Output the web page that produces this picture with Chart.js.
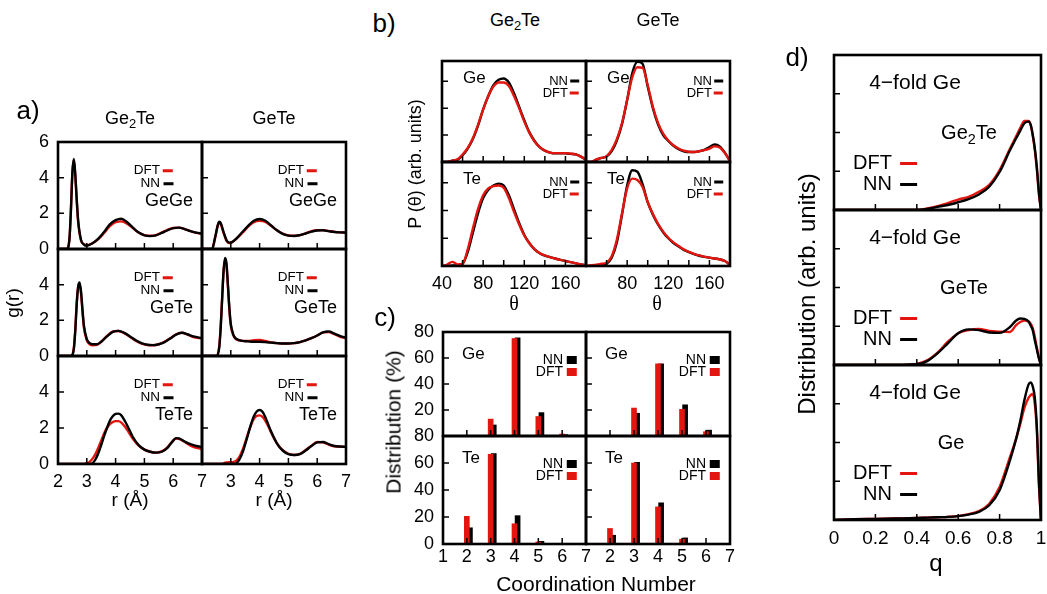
<!DOCTYPE html>
<html>
<head>
<meta charset="utf-8">
<title>Ge-Te structure: NN vs DFT</title>
<script src="https://cdn.jsdelivr.net/npm/chart.js@4.4.1/dist/chart.umd.min.js"></script>
<style>
  body { margin: 0; background: #fff; }
  #fig { position: relative; width: 1047px; height: 594px; overflow: hidden; font-family: "Liberation Sans", Arial, sans-serif; color: #000; }
  #fig canvas { position: absolute; }
  .t { position: absolute; white-space: nowrap; line-height: 1; }
  .sub { font-size: 0.72em; position: relative; top: 0.32em; }
</style>
</head>
<body>
<div id="fig"></div>
<script>
// ---- a) pair correlation functions g(r) ----
const rGe2TeGeGe = [2.0, 2.3, 2.4, 2.45, 2.5, 2.55, 2.6, 2.65, 2.7, 2.8, 2.9, 3.0, 3.2, 3.4, 3.6, 3.8, 4.0, 4.2, 4.4, 4.6, 4.8, 5.0, 5.2, 5.4, 5.6, 5.8, 6.0, 6.2, 6.4, 6.6, 6.8, 7.0]
const gGe2TeGeGeNN = [0, 0, 0.6, 2.2, 4.3, 5.05, 4.2, 2.8, 1.6, 0.5, 0.25, 0.18, 0.32, 0.58, 0.95, 1.38, 1.62, 1.7, 1.5, 1.2, 0.92, 0.76, 0.72, 0.76, 0.9, 1.05, 1.17, 1.2, 1.12, 1.0, 0.92, 0.87]
const gGe2TeGeGeDFT = [0, 0, 0.65, 2.3, 4.3, 5.0, 4.1, 2.7, 1.5, 0.48, 0.27, 0.22, 0.32, 0.55, 0.9, 1.28, 1.5, 1.55, 1.42, 1.18, 0.92, 0.78, 0.74, 0.78, 0.92, 1.08, 1.18, 1.2, 1.12, 1.0, 0.9, 0.85]

const rGeTeGeGe = [2.0, 2.35, 2.45, 2.55, 2.6, 2.65, 2.75, 2.85, 2.95, 3.05, 3.2, 3.4, 3.6, 3.8, 4.0, 4.2, 4.4, 4.6, 4.8, 5.0, 5.2, 5.4, 5.6, 5.8, 6.0, 6.2, 6.4, 6.6, 6.8, 7.0]
const gGeTeGeGeNN = [0, 0, 0.6, 1.35, 1.53, 1.45, 0.95, 0.5, 0.36, 0.4, 0.6, 0.95, 1.3, 1.58, 1.68, 1.58, 1.32, 1.05, 0.85, 0.75, 0.73, 0.78, 0.87, 0.97, 1.04, 1.05, 1.0, 0.95, 0.93, 0.92]
const gGeTeGeGeDFT = [0, 0, 0.6, 1.32, 1.5, 1.4, 0.9, 0.46, 0.34, 0.38, 0.58, 0.9, 1.25, 1.5, 1.58, 1.52, 1.3, 1.05, 0.86, 0.76, 0.74, 0.78, 0.88, 1.0, 1.06, 1.06, 1.01, 0.96, 0.93, 0.92]

const rGe2TeGeTe = [2.0, 2.45, 2.55, 2.6, 2.65, 2.7, 2.75, 2.8, 2.85, 2.9, 3.0, 3.1, 3.2, 3.35, 3.5, 3.7, 3.9, 4.1, 4.3, 4.5, 4.7, 4.9, 5.1, 5.3, 5.5, 5.7, 5.9, 6.1, 6.3, 6.5, 6.7, 7.0]
const gGe2TeGeTeNN = [0, 0, 0.4, 1.4, 2.9, 3.9, 4.12, 3.6, 2.6, 1.7, 0.95, 0.72, 0.66, 0.66, 0.8, 1.1, 1.35, 1.41, 1.3, 1.1, 0.88, 0.72, 0.63, 0.61, 0.66, 0.78, 0.98, 1.2, 1.3, 1.22, 1.1, 1.0]
const gGe2TeGeTeDFT = [0, 0, 0.45, 1.5, 3.0, 3.85, 4.02, 3.5, 2.5, 1.6, 0.88, 0.66, 0.6, 0.62, 0.8, 1.12, 1.36, 1.4, 1.28, 1.08, 0.86, 0.7, 0.62, 0.6, 0.66, 0.8, 1.0, 1.22, 1.3, 1.2, 1.06, 0.98]

const rGeTeGeTe = [2.0, 2.5, 2.6, 2.65, 2.7, 2.75, 2.8, 2.85, 2.9, 2.95, 3.0, 3.1, 3.2, 3.4, 3.6, 3.8, 4.0, 4.2, 4.4, 4.6, 4.8, 5.0, 5.2, 5.4, 5.6, 5.8, 6.0, 6.2, 6.4, 6.6, 6.8, 7.0]
const gGeTeGeTeNN = [0, 0, 0.5, 1.6, 3.2, 4.8, 5.5, 5.2, 4.0, 2.7, 1.8, 1.15, 0.95, 0.85, 0.82, 0.8, 0.8, 0.78, 0.75, 0.72, 0.7, 0.7, 0.72, 0.78, 0.88, 1.0, 1.15, 1.33, 1.37, 1.25, 1.12, 1.03]
const gGeTeGeTeDFT = [0, 0, 0.55, 1.7, 3.3, 4.8, 5.4, 5.1, 3.9, 2.6, 1.7, 1.12, 0.93, 0.85, 0.84, 0.88, 0.9, 0.84, 0.76, 0.72, 0.7, 0.7, 0.72, 0.78, 0.88, 1.0, 1.15, 1.32, 1.35, 1.22, 1.08, 1.0]

const rGe2TeTeTe = [2.0, 2.9, 3.0, 3.1, 3.2, 3.3, 3.4, 3.5, 3.6, 3.7, 3.8, 3.9, 4.0, 4.1, 4.2, 4.3, 4.4, 4.6, 4.8, 5.0, 5.2, 5.4, 5.6, 5.8, 5.9, 6.0, 6.1, 6.2, 6.4, 6.6, 6.8, 7.0]
const gGe2TeTeTeNN = [0, 0, 0, 0, 0.05, 0.25, 0.6, 1.05, 1.55, 2.0, 2.4, 2.65, 2.78, 2.8, 2.7, 2.45, 2.15, 1.5, 1.05, 0.8, 0.68, 0.63, 0.68, 0.9, 1.1, 1.3, 1.44, 1.42, 1.25, 1.1, 1.0, 0.95]
const gGe2TeTeTeDFT = [0, 0, 0.05, 0.12, 0.3, 0.55, 0.9, 1.3, 1.7, 2.0, 2.22, 2.33, 2.38, 2.38, 2.3, 2.12, 1.9, 1.4, 1.02, 0.8, 0.68, 0.63, 0.7, 0.92, 1.12, 1.3, 1.42, 1.4, 1.22, 1.02, 0.9, 0.85]

const rGeTeTeTe = [2.0, 2.7, 2.8, 3.0, 3.1, 3.2, 3.3, 3.4, 3.5, 3.6, 3.7, 3.8, 3.9, 4.0, 4.1, 4.2, 4.3, 4.4, 4.6, 4.8, 5.0, 5.2, 5.4, 5.6, 5.8, 6.0, 6.2, 6.4, 6.6, 6.8, 7.0]
const gGeTeTeTeNN = [0, 0, 0, 0, 0, 0.05, 0.25, 0.6, 1.1, 1.65, 2.2, 2.65, 2.92, 3.0, 2.9, 2.6, 2.2, 1.8, 1.15, 0.75, 0.55, 0.5, 0.55, 0.75, 1.0, 1.2, 1.22, 1.1, 1.0, 0.97, 0.95]
const gGeTeTeTeDFT = [0, 0, 0.08, 0.1, 0.12, 0.2, 0.4, 0.75, 1.2, 1.7, 2.15, 2.5, 2.68, 2.7, 2.62, 2.4, 2.1, 1.75, 1.15, 0.77, 0.57, 0.5, 0.56, 0.78, 1.02, 1.22, 1.2, 1.08, 0.98, 0.96, 0.95]

// ---- b) bond angle distributions P(theta) ----
const theta = [40, 45, 50, 55, 60, 65, 70, 75, 80, 85, 90, 95, 100, 105, 110, 115, 120, 125, 130, 135, 140, 145, 150, 155, 160, 165, 170, 175, 180]
const pGe2TeGeNN = [0, 0, 0.05, 0.08, 0.25, 0.5, 0.85, 1.35, 1.95, 2.45, 2.85, 3.05, 3.1, 2.95, 2.55, 2.05, 1.55, 1.1, 0.78, 0.55, 0.42, 0.35, 0.32, 0.32, 0.32, 0.3, 0.28, 0.2, 0.08]
const pGe2TeGeDFT = [0, 0, 0.05, 0.1, 0.28, 0.52, 0.88, 1.38, 1.95, 2.45, 2.8, 2.95, 2.95, 2.82, 2.45, 2.0, 1.5, 1.08, 0.76, 0.55, 0.42, 0.35, 0.33, 0.33, 0.33, 0.31, 0.28, 0.2, 0.08]
const pGeTeGeNN = [0, 0, 0.08, 0.15, 0.2, 0.4, 0.8, 1.4, 2.3, 3.3, 3.72, 3.65, 2.8, 2.0, 1.4, 1.0, 0.78, 0.6, 0.48, 0.4, 0.37, 0.37, 0.4, 0.45, 0.55, 0.65, 0.58, 0.35, 0.03]
const pGeTeGeDFT = [0, 0, 0.1, 0.15, 0.22, 0.45, 0.85, 1.45, 2.3, 3.15, 3.52, 3.5, 2.85, 2.05, 1.45, 1.05, 0.8, 0.62, 0.5, 0.42, 0.38, 0.37, 0.4, 0.44, 0.5, 0.58, 0.54, 0.33, 0.03]
const pGe2TeTeNN = [0, 0, 0.02, 0.03, 0.08, 0.5, 1.2, 1.9, 2.45, 2.75, 2.9, 2.97, 2.9, 2.55, 2.05, 1.55, 1.12, 0.82, 0.6, 0.46, 0.37, 0.32, 0.27, 0.22, 0.18, 0.14, 0.1, 0.06, 0.03]
const pGe2TeTeDFT = [0, 0.05, 0.15, 0.06, 0.08, 0.6, 1.35, 2.05, 2.55, 2.8, 2.88, 2.9, 2.82, 2.45, 1.95, 1.5, 1.1, 0.82, 0.6, 0.46, 0.38, 0.32, 0.27, 0.22, 0.18, 0.14, 0.1, 0.06, 0.03]
const pGeTeTeNN = [0, 0, 0, 0.03, 0.08, 0.3, 0.85, 1.85, 2.9, 3.45, 3.4, 2.95, 2.3, 1.85, 1.5, 1.22, 1.0, 0.83, 0.7, 0.58, 0.5, 0.43, 0.37, 0.33, 0.3, 0.27, 0.24, 0.18, 0.04]
const pGeTeTeDFT = [0, 0.03, 0.05, 0.08, 0.12, 0.35, 0.95, 1.9, 2.8, 3.15, 3.1, 2.85, 2.3, 1.88, 1.52, 1.24, 1.02, 0.85, 0.72, 0.6, 0.51, 0.44, 0.38, 0.34, 0.3, 0.27, 0.24, 0.18, 0.04]

// ---- c) coordination number distributions (%) ----
const coordNumbers = [2, 3, 4, 5, 6]
const cnGe2TeGeDFT = [0, 13, 75, 15, 1.5]
const cnGe2TeGeNN = [0, 8.5, 75.5, 18, 1]
const cnGeTeGeDFT = [0, 21.5, 55.5, 20.5, 3.3]
const cnGeTeGeNN = [0, 17.5, 55.5, 24, 4.5]
const cnGe2TeTeDFT = [20.5, 66.5, 15, 1.5, 0]
const cnGe2TeTeNN = [12, 67, 21, 2, 0.5]
const cnGeTeTeDFT = [11.5, 60, 27.5, 3.5, 0]
const cnGeTeTeNN = [6.5, 60.5, 30.5, 4.5, 0]

// ---- d) tetrahedral order parameter q of 4-fold Ge ----
const qGrid = [0, 0.1, 0.2, 0.3, 0.4, 0.45, 0.5, 0.55, 0.6, 0.65, 0.7, 0.75, 0.8, 0.85, 0.88, 0.9, 0.92, 0.94, 0.95, 0.96, 0.97, 0.98, 0.99, 1.0]
const qGe2TeNN = [0, 0, 0, 0, 0, 0.03, 0.08, 0.13, 0.2, 0.28, 0.4, 0.6, 0.98, 1.54, 1.85, 2.05, 2.24, 2.28, 2.2, 1.95, 1.6, 1.1, 0.45, 0]
const qGe2TeDFT = [0, 0, 0, 0, 0, 0.04, 0.1, 0.18, 0.27, 0.34, 0.47, 0.65, 1.03, 1.58, 1.9, 2.12, 2.3, 2.3, 2.2, 1.92, 1.55, 1.05, 0.4, 0]
const qGeTeNN = [0, 0, 0, 0, 0.02, 0.1, 0.3, 0.56, 0.82, 0.92, 0.9, 0.84, 0.83, 0.98, 1.15, 1.2, 1.19, 1.12, 1.02, 0.9, 0.64, 0.4, 0.17, 0]
const qGeTeDFT = [0, 0, 0, 0, 0.03, 0.12, 0.32, 0.6, 0.82, 0.9, 0.93, 0.88, 0.86, 0.85, 1.03, 1.11, 1.15, 1.12, 1.07, 0.95, 0.73, 0.45, 0.18, 0]
const qGeNN = [0, 0.02, 0.03, 0.04, 0.05, 0.06, 0.07, 0.08, 0.1, 0.14, 0.21, 0.38, 0.77, 1.54, 2.1, 2.56, 3.1, 3.5, 3.55, 3.45, 3.16, 2.4, 1.0, 0]
const qGeDFT = [0, 0.02, 0.03, 0.04, 0.05, 0.06, 0.07, 0.08, 0.1, 0.15, 0.23, 0.42, 0.85, 1.62, 2.1, 2.48, 2.9, 3.15, 3.22, 3.25, 3.0, 2.3, 0.9, 0]

const RED = "#e2150f"
const BLACK = "#000000"
const FONT = "'Liberation Sans', Arial, sans-serif"
const GE2TE = 'Ge<span class="sub">2</span>Te'
const fig = document.getElementById("fig")
// room around each frame; top must exceed half a tick label + tick padding
const PAD = { l: 44, r: 26, t: 24, b: 32 }

Chart.defaults.font.family = FONT
Chart.defaults.color = "#000"

// frame + inward tick marks, gnuplot style (drawn last, on top of everything)
function frameTicks(xt, yt) {
  return {
    id: "frameTicks",
    afterDraw(chart) {
      const { ctx, scales } = chart
      const l = scales.x.getPixelForValue(scales.x.min)
      const r = scales.x.getPixelForValue(scales.x.max)
      const t = scales.y.getPixelForValue(scales.y.max)
      const b = scales.y.getPixelForValue(scales.y.min)
      ctx.save()
      ctx.strokeStyle = "#000"
      ctx.lineWidth = 1.5
      ctx.beginPath()
      xt.forEach((v) => {
        const p = scales.x.getPixelForValue(v)
        ctx.moveTo(p, b)
        ctx.lineTo(p, b - 6)
      })
      yt.forEach((v) => {
        const p = scales.y.getPixelForValue(v)
        ctx.moveTo(l, p)
        ctx.lineTo(l + 6, p)
      })
      ctx.stroke()
      ctx.lineWidth = 2.6
      ctx.strokeRect(l, t, r - l, b - t)
      ctx.restore()
    },
  }
}

function axis(range, fmt, pad, size) {
  return {
    type: "linear",
    min: range[0],
    max: range[1],
    offset: false,
    grid: { display: false, drawTicks: false },
    border: { display: false },
    ticks: {
      stepSize: range[2],
      includeBounds: false,
      autoSkip: false,
      maxRotation: 0,
      display: !!fmt,
      padding: pad,
      color: "#000",
      font: { family: FONT, size: size },
      callback: fmt || (() => ""),
    },
  }
}

function makePlot(left, top, right, bottom, type, datasets, o) {
  const cv = document.createElement("canvas")
  cv.width = right - left + PAD.l + PAD.r
  cv.height = bottom - top + PAD.t + PAD.b
  cv.style.left = left - PAD.l + "px"
  cv.style.top = top - PAD.t + "px"
  fig.appendChild(cv)

  const x = axis(o.x, o.xfmt, o.xpad, o.fs || 18)
  x.afterFit = (s) => { s.height = PAD.b }
  const y = axis(o.y, o.yfmt, 9, o.fs || 18)
  y.afterFit = (s) => { s.width = PAD.l }
  const scales = Object.assign({ x, y }, o.extra || {})

  return new Chart(cv, {
    type: type,
    data: { datasets: datasets },
    options: {
      responsive: false,
      animation: false,
      events: [],
      layout: { padding: { top: PAD.t, right: PAD.r, left: 0, bottom: 0 } },
      plugins: { legend: { display: false }, tooltip: { enabled: false } },
      scales: scales,
    },
    plugins: [frameTicks(o.xt, o.yt)],
  })
}

function curve(xs, ys, color) {
  return {
    data: xs.map((x, i) => ({ x: x, y: ys[i] })),
    borderColor: color,
    borderWidth: 2.4,
    pointRadius: 0,
    cubicInterpolationMode: "monotone",
    fill: false,
  }
}

function bars(vals, color, axisId) {
  return {
    data: coordNumbers.map((x, i) => ({ x: x, y: vals[i] })),
    backgroundColor: color,
    borderWidth: 0,
    barThickness: 5,
    grouped: false,
    xAxisID: axisId,
  }
}

// text helpers (real DOM text)
function txt(x, y, html, size, align, extra) {
  const d = document.createElement("div")
  d.className = "t"
  d.innerHTML = html
  d.style.fontSize = size + "px"
  d.style.left = x + "px"
  d.style.top = y + "px"
  const tx = align === "r" ? "-100%" : align === "l" ? "0" : "-50%"
  d.style.transform = "translate(" + tx + ", -50%)" + (extra || "")
  fig.appendChild(d)
  return d
}

function key(xEnd, y, name, color, size, w, h, gap) {
  const mark = '<span style="display:inline-block;width:' + w + "px;height:" + h + "px;margin-left:" + gap +
    "px;background:" + color + ';vertical-align:middle"></span>'
  txt(xEnd, y, name + mark, size, "r")
}

// ---------- panel a ----------
const aCols = [58, 202, 346]
const aRows = [142, 249, 356, 464]
const gofr = [
  { col: 0, row: 0, r: rGe2TeGeGe, nn: gGe2TeGeGeNN, dft: gGe2TeGeGeDFT, name: "GeGe" },
  { col: 1, row: 0, r: rGeTeGeGe, nn: gGeTeGeGeNN, dft: gGeTeGeGeDFT, name: "GeGe" },
  { col: 0, row: 1, r: rGe2TeGeTe, nn: gGe2TeGeTeNN, dft: gGe2TeGeTeDFT, name: "GeTe" },
  { col: 1, row: 1, r: rGeTeGeTe, nn: gGeTeGeTeNN, dft: gGeTeGeTeDFT, name: "GeTe" },
  { col: 0, row: 2, r: rGe2TeTeTe, nn: gGe2TeTeTeNN, dft: gGe2TeTeTeDFT, name: "TeTe" },
  { col: 1, row: 2, r: rGeTeTeTe, nn: gGeTeTeTeNN, dft: gGeTeTeTeDFT, name: "TeTe" },
]
gofr.forEach((c) => {
  makePlot(aCols[c.col], aRows[c.row], aCols[c.col + 1], aRows[c.row + 1], "line",
    [curve(c.r, c.nn, BLACK), curve(c.r, c.dft, RED)], {
      x: [2, 7, 1],
      y: [0, 6, 2],
      xfmt: c.row === 2 ? (v) => (c.col === 1 && v === 2 ? "" : String(v)) : null,
      yfmt: c.col === 0 ? (v) => (c.row > 0 && v === 6 ? "" : String(v)) : null,
      xpad: 7,
      xt: [3, 4, 5, 6],
      yt: [2, 4],
    })
})

// ---------- panel b ----------
const bCols = [442, 586, 730]
const bRows = [61, 162, 266]
const angles = [
  { col: 0, row: 0, nn: pGe2TeGeNN, dft: pGe2TeGeDFT, name: "Ge" },
  { col: 1, row: 0, nn: pGeTeGeNN, dft: pGeTeGeDFT, name: "Ge" },
  { col: 0, row: 1, nn: pGe2TeTeNN, dft: pGe2TeTeDFT, name: "Te" },
  { col: 1, row: 1, nn: pGeTeTeNN, dft: pGeTeTeDFT, name: "Te" },
]
angles.forEach((c) => {
  makePlot(bCols[c.col], bRows[c.row], bCols[c.col + 1], bRows[c.row + 1], "line",
    [curve(theta, c.dft, RED), curve(theta, c.nn, BLACK)], {
      x: [40, 180, 40],
      y: [0, 3.75, 1],
      xfmt: c.row === 1 ? (v) => (c.col === 1 && v === 40 ? "" : String(v)) : null,
      yfmt: null,
      xpad: 7,
      xt: [60, 80, 100, 120, 140, 160],
      yt: [1, 2, 3],
    })
})

// ---------- panel c ----------
const cCols = [443, 586, 730]
const cRows = [332, 436, 544]
const coord = [
  { col: 0, row: 0, nn: cnGe2TeGeNN, dft: cnGe2TeGeDFT, name: "Ge" },
  { col: 1, row: 0, nn: cnGeTeGeNN, dft: cnGeTeGeDFT, name: "Ge" },
  { col: 0, row: 1, nn: cnGe2TeTeNN, dft: cnGe2TeTeDFT, name: "Te" },
  { col: 1, row: 1, nn: cnGeTeTeNN, dft: cnGeTeTeDFT, name: "Te" },
]
coord.forEach((c) => {
  makePlot(cCols[c.col], cRows[c.row], cCols[c.col + 1], cRows[c.row + 1], "bar",
    [bars(c.dft, RED, "x"), bars(c.nn, BLACK, "xn")], {
      x: [1, 7, 1],
      y: [0, 80, 20],
      xfmt: c.row === 1 ? (v) => (c.col === 1 && v === 1 ? "" : String(v)) : null,
      yfmt: c.col === 0 ? (v) => (c.row === 0 && v === 0 ? "" : String(v)) : null,
      xpad: 2,
      xt: [2, 3, 4, 5, 6],
      yt: [20, 40, 60],
      // NN bars sit a little to the right of the DFT bars
      extra: { xn: { type: "linear", display: false, min: 1 - 0.13, max: 7 - 0.13, offset: false } },
    })
})

// ---------- panel d ----------
const dCols = [834, 1041]
const dRows = [55, 210, 365, 520]
const orderParam = [
  { row: 0, nn: qGe2TeNN, dft: qGe2TeDFT },
  { row: 1, nn: qGeTeNN, dft: qGeTeDFT },
  { row: 2, nn: qGeNN, dft: qGeDFT },
]
orderParam.forEach((c) => {
  makePlot(dCols[0], dRows[c.row], dCols[1], dRows[c.row + 1], "line",
    [curve(qGrid, c.nn, BLACK), curve(qGrid, c.dft, RED)], {
      x: [0, 1, 0.2],
      y: [0, 4, 1],
      xfmt: c.row === 2 ? (v) => String(Math.round(v * 10) / 10) : null,
      yfmt: null,
      xpad: 7,
      fs: 19,
      xt: [0.2, 0.4, 0.6, 0.8],
      yt: [1, 2, 3],
    })
})

// ---------- text: panel a ----------
txt(28, 110, "a)", 26)
txt(130, 118, GE2TE, 18)
txt(274, 118, "GeTe", 18)
txt(12, 303, "g(r)", 19, "c", " rotate(-90deg)")
txt(130, 499, "r (Å)", 19)
txt(274, 499, "r (Å)", 19)
gofr.forEach((c) => {
  const dx = c.col * 144
  const top = aRows[c.row]
  key(173 + dx, top + 28, "DFT", RED, 13.5, 10, 3, 3)
  key(173 + dx, top + 41, "NN", BLACK, 13.5, 10, 3, 3)
  txt(193 + dx, top + 58, c.name, 18, "r")
})

// ---------- text: panel b ----------
txt(384, 23, "b)", 26)
txt(515, 20, GE2TE, 18)
txt(658, 20, "GeTe", 18)
txt(415, 164, "P (θ) (arb. units)", 18, "c", " rotate(-90deg)")
txt(514, 303, '<span style="font-family:\'Liberation Serif\',serif">θ</span>', 20)
txt(657, 303, '<span style="font-family:\'Liberation Serif\',serif">θ</span>', 20)
angles.forEach((c) => {
  const dx = c.col * 144
  const top = bRows[c.row]
  txt(463 + dx, top + 16, c.name, 17, "l")
  key(579 + dx, top + 19, "NN", BLACK, 13, 9, 3, 2)
  key(579 + dx, top + 31, "DFT", RED, 13, 9, 3, 2)
})

// ---------- text: panel c ----------
txt(385, 317, "c)", 26)
txt(393, 422, "Distribution (%)", 21, "c", " rotate(-90deg)")
txt(596, 583, "Coordination Number", 21)
coord.forEach((c) => {
  const dx = c.col * 143
  const top = cRows[c.row]
  txt(462 + dx, top + 21, c.name, 17, "l")
  key(577 + dx, top + 27, "NN", BLACK, 14, 10, 8, 4)
  key(577 + dx, top + 39, "DFT", RED, 14, 10, 8, 4)
})

// ---------- text: panel d ----------
txt(797, 57, "d)", 26)
txt(807, 294, "Distribution (arb. units)", 24, "c", " rotate(-90deg)")
txt(936, 563, "q", 24)
const dNames = [GE2TE, "GeTe", "Ge"]
const dNameX = [969, 964, 951]
orderParam.forEach((c) => {
  const top = dRows[c.row]
  txt(915, top + 26, "4−fold Ge", 21)
  txt(dNameX[c.row], top + 77, dNames[c.row], 20)
  key(917, top + 107, "DFT", RED, 20, 17, 3, 8)
  key(917, top + 128, "NN", BLACK, 20, 17, 3, 8)
})
</script>
</body>
</html>
